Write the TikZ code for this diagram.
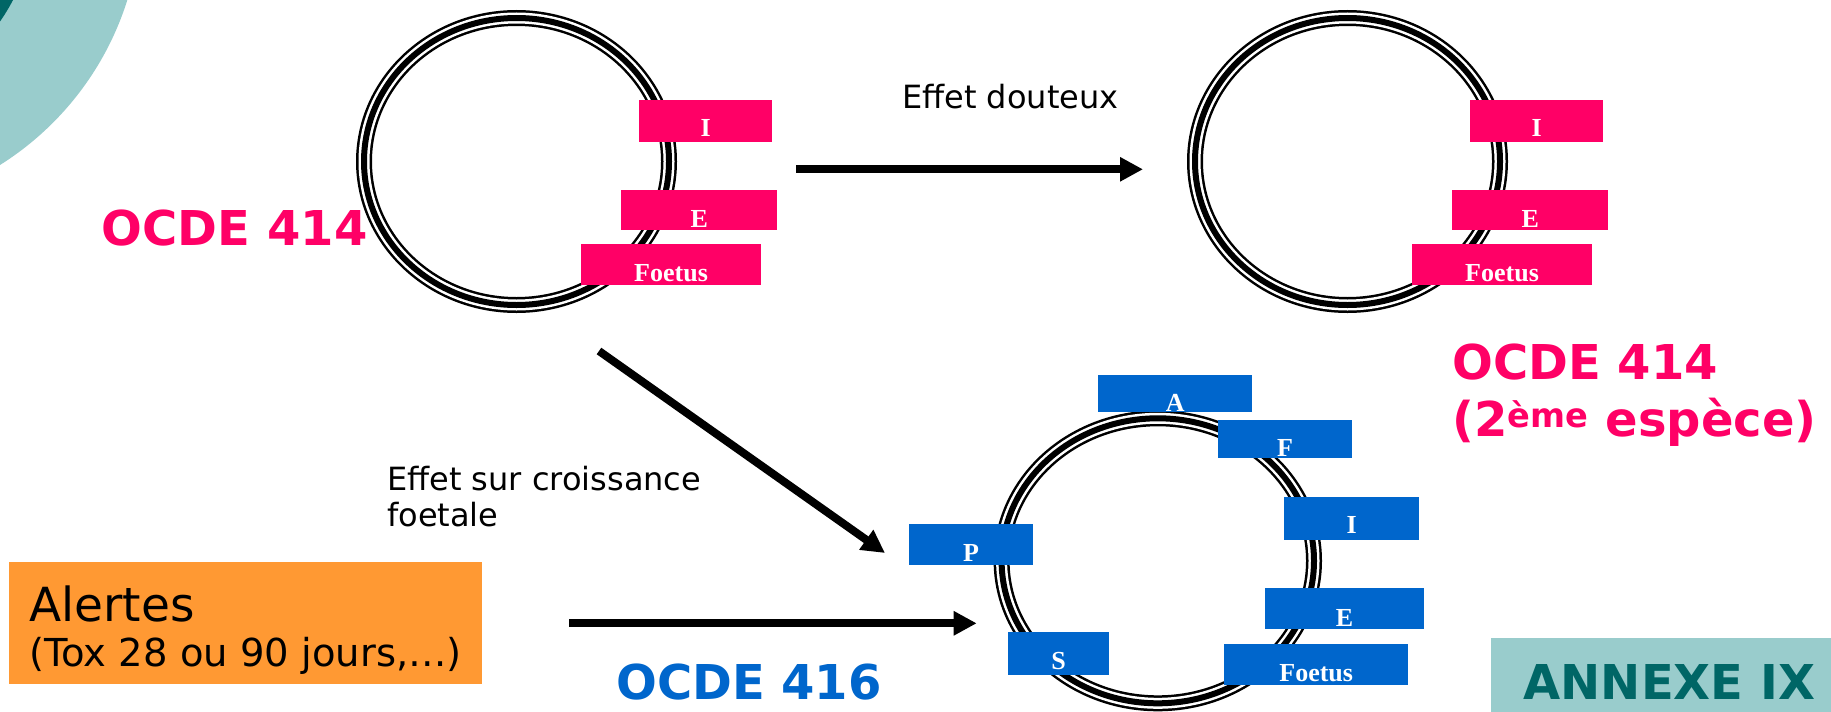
\documentclass[tikz,border=0pt]{standalone}
\usepackage{fontspec}
\setmainfont{DejaVu Sans}
\newfontfamily\tnr{Liberation Serif}
\usetikzlibrary{arrows.meta}
\definecolor{pinkc}{HTML}{FF0066}
\definecolor{bluec}{HTML}{0066CC}
\definecolor{orangec}{HTML}{FF9933}
\definecolor{lteal}{HTML}{99CCCC}
\definecolor{dteal}{HTML}{006666}
\newcommand\myring[4]{%
  \draw[line width=16pt] (#1,#2) ellipse [x radius=#3, y radius=#4];
  \draw[line width=11pt, white] (#1,#2) ellipse [x radius=#3, y radius=#4];
  \draw[line width=6pt] (#1,#2) ellipse [x radius=#3, y radius=#4];}
\begin{document}
\begin{tikzpicture}[x=1pt,y=-1pt,
  lbl/.style={inner sep=0pt, anchor=south west, text=white, font=\tnr\bfseries\fontsize{26}{30}\selectfont},
  pbox/.style={lbl, fill=pinkc},
  bbox/.style={lbl, fill=bluec},
  txt/.style={inner sep=0pt, anchor=base west},
  big/.style={txt, font=\bfseries\fontsize{48}{56}\selectfont},
  mid/.style={txt, font=\fontsize{32}{37}\selectfont},
  arr/.style={line width=8pt, -{Triangle[length=23pt,width=23pt]}},
]
\useasboundingbox (0,0) rectangle (1831,712);
\begin{scope}
  \clip (0,0) rectangle (1831,712);
  \fill[lteal] (-160,-90) circle [radius=301];
  \fill[dteal] (-160,-90) circle [radius=195];
\end{scope}

% rings
\myring{516.5}{161.5}{152.5}{143.5}
\myring{1347.5}{161.5}{152.5}{143.5}
\myring{1157.8}{560.8}{156.2}{142.5}

% pink boxes left
\node[pbox, minimum width=133pt, text height=37pt, text depth=5pt] (pI1) at (639,142) {I};
\node[pbox, minimum width=156pt, text height=37.7pt, text depth=2.3pt] (pE1) at (621,230) {E};
\node[pbox, minimum width=180.3pt, text height=37.4pt, text depth=3.3pt] (pF1) at (580.7,285) {Foetus};
% pink boxes right
\node[pbox, minimum width=133pt, text height=37pt, text depth=5pt] (pI2) at (1470,142) {I};
\node[pbox, minimum width=156pt, text height=37.7pt, text depth=2.3pt] (pE2) at (1452,230) {E};
\node[pbox, minimum width=180.3pt, text height=37.4pt, text depth=3.3pt] (pF2) at (1411.7,285) {Foetus};
% blue boxes
\node[bbox, minimum width=154pt, text height=36.8pt, text depth=0.5pt] (bA) at (1098,412.3) {A};
\node[bbox, minimum width=134.5pt, text height=37pt, text depth=1.3pt] (bF) at (1217.5,458.3) {F};
\node[bbox, minimum width=135pt, text height=37pt, text depth=6pt] (bI) at (1284,540) {I};
\node[bbox, minimum width=159.4pt, text height=38.4pt, text depth=2.6pt] (bE) at (1264.6,629.3) {E};
\node[bbox, minimum width=184pt, text height=37.7pt, text depth=3.3pt] (bFo) at (1224,685) {Foetus};
\node[bbox, minimum width=124.3pt, text height=37pt, text depth=4pt] (bP) at (908.6,565.3) {P};
\node[bbox, minimum width=101pt, text height=37.3pt, text depth=5.4pt] (bS) at (1007.9,674.7) {S};

% arrows
\coordinate (a1s) at (796,169.3);
\coordinate (a1e) at (1143,169.3);
\draw[arr] (a1s) -- (a1e);
\coordinate (a2s) at (599,351);
\coordinate (a2e) at (885,553);
\draw[arr] (a2s) -- (a2e);
\coordinate (a3s) at (569.3,623.3);
\coordinate (a3e) at (976.7,623.3);
\draw[arr] (a3s) -- (a3e);

% texts
\node[big, text=pinkc] (ocdeL) at (101.7,245) {OCDE 414};
\node[big, text=pinkc] (ocdeR1) at (1452.3,379) {OCDE 414};
\node[big, text=pinkc] (ocdeR2) at (1452.3,436.7) {(2\textsuperscript{ème} espèce)};
\node[big, text=bluec] (ocde416) at (616,699.3) {OCDE 416};
\node[mid] (douteux) at (902,108.3) {Effet douteux};
\node[mid] (croiss1) at (387,490) {Effet sur croissance};
\node[mid] (croiss2) at (387,526) {foetale};

% alert box
\node[fill=orangec, inner sep=0pt, minimum width=473pt, minimum height=122pt, anchor=north west] (alert) at (9,562) {};
\node[txt, font=\fontsize{47}{54}\selectfont] (alertT) at (29.3,621) {Alertes};
\node[txt, font=\fontsize{38.5}{44}\selectfont] (alertS) at (29.3,666.7) {(Tox 28 ou 90 jours,…)};

% annexe
\node[fill=lteal, inner sep=0pt, minimum width=340pt, minimum height=74.7pt, anchor=north west] (annexbox) at (1491,637.3) {};
\node[big, text=dteal] (annexT) at (1523.3,699.3) {ANNEXE IX};
\end{tikzpicture}
\end{document}
